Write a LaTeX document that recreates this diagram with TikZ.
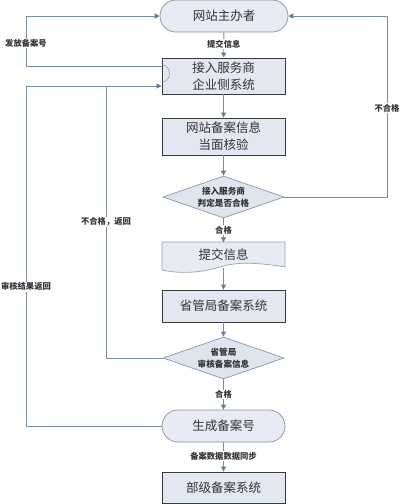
\documentclass[tikz,border=0pt]{standalone}
\usepackage{fontspec}
\setmainfont{Noto Sans CJK SC}
\usetikzlibrary{shapes.geometric,arrows.meta}
\definecolor{lineclr}{HTML}{7B8DA6}
\definecolor{arrclr}{HTML}{5B7FAE}
\definecolor{boxfill}{HTML}{E3E7F1}
\definecolor{boxdraw}{HTML}{3A3A3A}
\definecolor{termfill}{HTML}{E8EAF6}
\definecolor{termdraw}{HTML}{8C909C}
\definecolor{diafill}{HTML}{DFE5EF}
\definecolor{diadraw}{HTML}{8C96A4}
\definecolor{docfill}{HTML}{E6EBF4}
\definecolor{docdraw}{HTML}{9AA4B4}
\definecolor{txt}{HTML}{333333}
\tikzset{
  procbox/.style={draw=boxdraw,fill=boxfill,line width=0.9pt,minimum width=123pt,
    inner sep=0pt,align=center,font=\fontsize{12.5pt}{17pt}\selectfont,text=txt},
  termbox/.style={draw=termdraw,fill=termfill,line width=0.7pt,rounded corners=16pt,
    minimum height=32pt,inner sep=0pt,align=center,font=\fontsize{12.5pt}{17pt}\selectfont,text=txt},
  decide/.style={draw=diadraw,fill=diafill,line width=0.7pt,shape=diamond,aspect=2.9,
    minimum width=121pt,minimum height=42pt,inner sep=0pt,align=center,
    font=\fontsize{8.6pt}{11.6pt}\selectfont\bfseries,text=txt},
  conn/.style={draw=lineclr,line width=0.9pt},
  arr/.style={conn,-{Triangle[length=5pt,width=5pt,color=arrclr]}},
  lbl/.style={fill=white,inner sep=1pt,font=\fontsize{8.3pt}{10pt}\selectfont\bfseries,text=txt}
}
\begin{document}
\begin{tikzpicture}[x=1pt,y=-1pt]
\useasboundingbox (0,0) rectangle (400,504);
% nodes
\node[termbox,minimum width=128pt] (top) at (224,16) {网站主办者};
\node[procbox,minimum height=36pt] (b1) at (223.5,76) {接入服务商\\企业侧系统};
\node[procbox,minimum height=37pt] (b2) at (223.5,136.5) {网站备案信息\\当面核验};
\node[decide] (d1) at (223.5,197) {接入服务商\\判定是否合格};
\path[draw=docdraw,fill=docfill,line width=0.7pt] (162,242) -- (285,242) -- (285,267)
  .. controls (255,262) and (235,262) .. (220,267)
  .. controls (200,273) and (180,274) .. (162,270) -- cycle;
\node[inner sep=0pt,minimum width=123pt,minimum height=24pt,font=\fontsize{12.5pt}{17pt}\selectfont,text=txt] (doc) at (223.5,254.5) {提交信息};
\coordinate (docb) at (223.5,268);
\node[procbox,minimum height=32pt] (b3) at (223.5,306) {省管局备案系统};
\node[decide] (d2) at (223.5,358) {省管局\\审核备案信息};
\node[termbox,minimum width=123pt] (gen) at (223.5,426) {生成备案号};
\node[procbox,minimum height=31pt] (b4) at (223.5,487.5) {部级备案系统};
% main flow
\draw[arr] (top) -- node[lbl,pos=0.46] (l1) {提交信息} (b1);
\draw[arr] (b1) -- (b2);
\draw[arr] (b2) -- (d1);
\draw[arr] (d1) -- node[lbl,pos=0.5] (l2) {合格} (doc.north);
\draw[arr] (docb) -- (b3);
\draw[arr] (b3) -- (d2);
\draw[arr] (d2) -- node[lbl,pos=0.5] (l3) {合格} (gen);
\draw[arr] (gen) -- node[lbl,pos=0.48] (l4) {备案数据数据同步} (b4);
% feedback loops
\coordinate (c1) at (26,66);
\coordinate (c2) at (26,16);
\draw[arr] (b1.west |- c1) -- (c1) -- node[lbl,pos=0.45] (l5) {发放备案号} (c2) -- (top.west);
\draw[draw=docdraw,line width=0.6pt] (162,65) .. controls (172,65) and (172,82) .. (162,82);
\coordinate (c3) at (26,426);
\coordinate (c4) at (26,86);
\draw[arr] (gen.west) -- (c3) -- node[lbl,pos=0.41] (l6) {审核结果返回} (c4) -- (b1.west |- c4);
\coordinate (c5) at (106,358);
\coordinate (c6) at (106,86);
\draw[conn] (d2.west) -- (c5) -- node[lbl,pos=0.5] (l7) {不合格，返回} (c6);
\coordinate (c7) at (387,197);
\coordinate (c8) at (387,16);
\draw[arr] (d1.east) -- (c7) -- node[lbl,pos=0.49] (l8) {不合格} (c8) -- (top.east);
\end{tikzpicture}
\end{document}
